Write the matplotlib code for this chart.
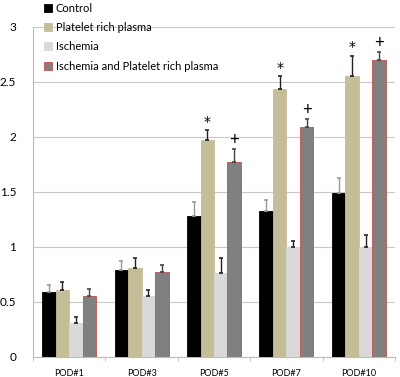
import matplotlib
matplotlib.use("Agg")
import matplotlib.pyplot as plt
import numpy as np

plt.rcParams['font.family'] = ['Lato', 'DejaVu Sans']

categories = ["POD#1", "POD#3", "POD#5", "POD#7", "POD#10"]
series_names = ["Control", "Platelet rich plasma", "Ischemia", "Ischemia and Platelet rich plasma"]
control = [0.59, 0.79, 1.28, 1.33, 1.49]
prp = [0.61, 0.81, 1.97, 2.44, 2.55]
ischemia = [0.31, 0.55, 0.76, 1.00, 1.00]
isch_prp = [0.55, 0.77, 1.77, 2.09, 2.70]
control_err = [0.06, 0.08, 0.13, 0.10, 0.14]
prp_err = [0.07, 0.09, 0.09, 0.11, 0.19]
ischemia_err = [0.05, 0.06, 0.14, 0.05, 0.11]
isch_prp_err = [0.07, 0.07, 0.12, 0.07, 0.07]
prp_marks = ["", "", "*", "*", "*"]
isch_prp_marks = ["", "", "+", "+", "+"]

values = [control, prp, ischemia, isch_prp]
errors = [control_err, prp_err, ischemia_err, isch_prp_err]
colors = ["#000000", "#C4BD97", "#D9D9D9", "#808080"]
edges = ["#000000", "#C4BD97", "#D9D9D9", "#C0504D"]
err_colors = ["#999999", "#222222", "#222222", "#444444"]

fig = plt.figure(figsize=(4.0, 3.77), dpi=100)
ax = fig.add_axes([0.0825, 0.0531, 0.905, 0.8753])

x = np.arange(len(categories))
w = 0.186
for i, (vals, errs) in enumerate(zip(values, errors)):
    pos = x + (i - 1.5) * w
    ax.bar(pos, vals, width=w, color=colors[i], edgecolor=edges[i], linewidth=0.6, zorder=3,
           label=series_names[i])
    ax.errorbar(pos, vals, yerr=[np.zeros(len(vals)), errs], fmt='none', ecolor=err_colors[i],
                elinewidth=1.0, capsize=1.5, capthick=1.2, zorder=4)

for j in range(len(categories)):
    if prp_marks[j]:
        ax.annotate(prp_marks[j], (x[j] - 0.5 * w, prp[j] + prp_err[j]), xytext=(0, 1),
                    textcoords='offset points', ha='center', va='bottom', fontsize=10,
                    family=['DejaVu Sans'])
    if isch_prp_marks[j]:
        ax.annotate(isch_prp_marks[j], (x[j] + 1.5 * w, isch_prp[j] + isch_prp_err[j]), xytext=(0, 1),
                    textcoords='offset points', ha='center', va='bottom', fontsize=12)

ax.set_xlim(-0.5, len(categories) - 0.5)
ax.set_ylim(0, 3)
ax.set_yticks([0, 0.5, 1, 1.5, 2, 2.5, 3])
ax.set_yticklabels(["0", "0.5", "1", "1.5", "2", "2.5", "3"])
ax.set_xticks(x)
ax.set_xticklabels(categories)
ax.set_xticks(np.arange(len(categories) + 1) - 0.5, minor=True)
ax.tick_params(axis='x', which='major', length=0, labelsize=6.5, pad=9)
ax.tick_params(axis='x', which='minor', length=3, color='#BBBBBB')
ax.tick_params(axis='y', length=0, labelsize=8.5, pad=12)
ax.yaxis.grid(True, color='#C8C8C8', linewidth=0.8, zorder=0)
ax.set_axisbelow(True)
for s in ['top', 'right']:
    ax.spines[s].set_visible(False)
ax.spines['left'].set_color('#BBBBBB')
ax.spines['bottom'].set_color('#BBBBBB')

fig.legend(loc='upper left', bbox_to_anchor=(0.1, 1.005), frameon=False, fontsize=8,
           handlelength=0.7, handleheight=0.7, handletextpad=0.3, labelspacing=0.75,
           borderaxespad=0)

fig.savefig("out.png", dpi=100)
